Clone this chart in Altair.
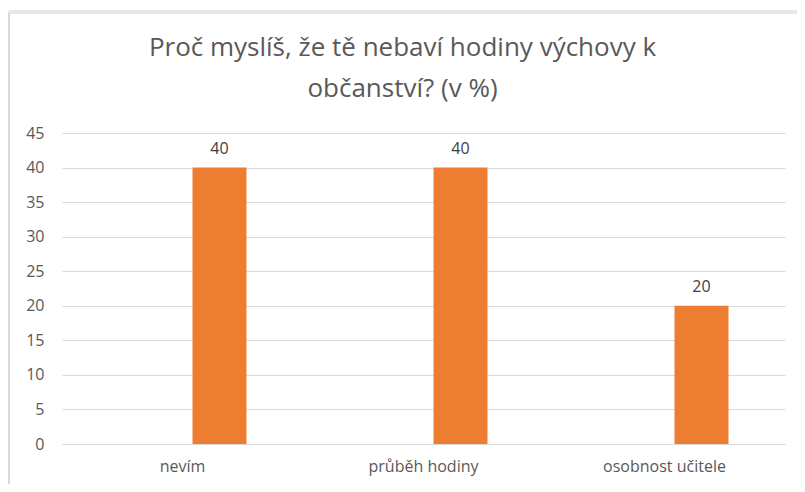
import altair as alt
import pandas as pd

categories = ["nevím", "průběh hodiny", "osobnost učitele"]
values = [40, 40, 20]

df = pd.DataFrame({"kategorie": categories, "hodnota": values})

FONT = "Open Sans"
GRAY = "#595959"

x = alt.X("kategorie:N", sort=categories, title=None,
          scale=alt.Scale(paddingInner=0, paddingOuter=0),
          axis=alt.Axis(labelAngle=0, ticks=False, domain=True, domainColor="#d9d9d9",
                        labelColor=GRAY, labelFontSize=16, labelFont=FONT, labelPadding=14))
y = alt.Y("hodnota:Q", title=None,
          scale=alt.Scale(domain=[0, 45], nice=False),
          axis=alt.Axis(values=list(range(0, 46, 5)), ticks=False, domain=False,
                        labelOverlap=False, gridColor="#d9d9d9", labelColor=GRAY,
                        labelFontSize=16, labelFont=FONT, labelPadding=18))

bars = alt.Chart(df).mark_bar(color="#ED7D31", size=54, xOffset=37).encode(x=x, y=y)
labels = alt.Chart(df).mark_text(xOffset=37, dy=-11, baseline="bottom", fontSize=16,
                                 font=FONT, color="#404040").encode(
    x=x, y=y, text="hodnota:Q")

frame_left = alt.Chart(df).mark_rule(color="#d9d9d9", strokeWidth=1.5).encode(
    x=alt.value(-53), x2=alt.value(-53), y=alt.value(-121), y2=alt.value(360))
frame_top = alt.Chart(df).mark_rule(color="#e6e6e6", strokeWidth=3).encode(
    x=alt.value(-53), x2=alt.value(760), y=alt.value(-121), y2=alt.value(-121))

chart = alt.layer(frame_left, frame_top, bars, labels).properties(
    width=723, height=311, background="white",
    title=alt.TitleParams(["Proč myslíš, že tě nebaví hodiny výchovy k", "občanství? (v %)"],
                          font=FONT, fontSize=26, fontWeight="normal", color=GRAY,
                          lineHeight=41, anchor="middle", frame="group", dx=-21, dy=113,
                          offset=22),
    autosize=alt.AutoSizeParams(type="none"),
    padding={"left": 54, "top": 125, "right": 12, "bottom": 40},
).configure_view(stroke=None)

chart.save("out.html", embed_options={"renderer": "svg", "actions": False})
